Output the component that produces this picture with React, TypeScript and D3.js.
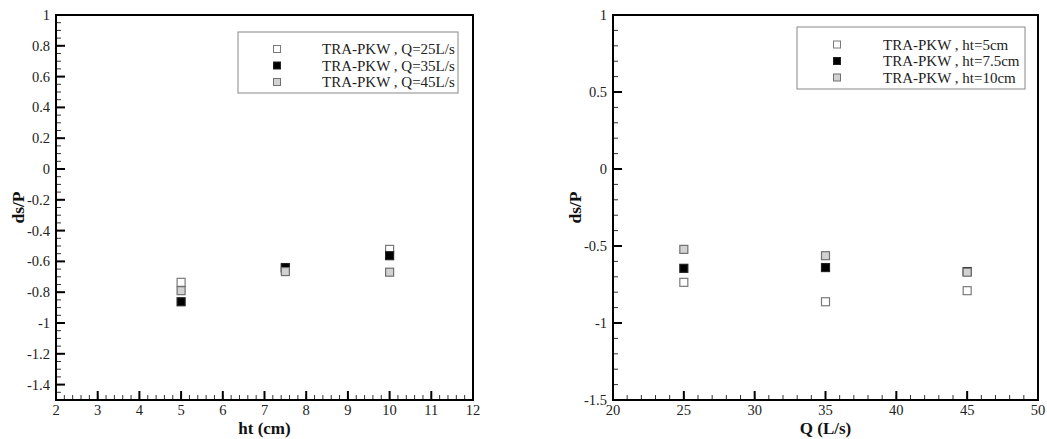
import React from "react";
import * as d3 from "d3";

// ---- data ----
const htValues = [5, 7.5, 10];
const qValues = [25, 35, 45];
// ds/P by ht, ordered by Q = 25, 35, 45
const dsP_ht5 = [-0.736, -0.862, -0.79];
const dsP_ht75 = [-0.645, -0.64, -0.666];
const dsP_ht10 = [-0.522, -0.563, -0.67];
// ds/P by Q, ordered by ht = 5, 7.5, 10
const dsP_Q25 = [-0.736, -0.645, -0.522];
const dsP_Q35 = [-0.862, -0.64, -0.563];
const dsP_Q45 = [-0.79, -0.666, -0.67];

const leftLabels = ["TRA-PKW , Q=25L/s", "TRA-PKW , Q=35L/s", "TRA-PKW , Q=45L/s"];
const rightLabels = ["TRA-PKW , ht=5cm", "TRA-PKW , ht=7.5cm", "TRA-PKW , ht=10cm"];

const leftYTicks = [1, 0.8, 0.6, 0.4, 0.2, 0, -0.2, -0.4, -0.6, -0.8, -1, -1.2, -1.4];
const leftXTicks = [2, 3, 4, 5, 6, 7, 8, 9, 10, 11, 12];
const rightYTicks = [1, 0.5, 0, -0.5, -1, -1.5];
const rightXTicks = [20, 25, 30, 35, 40, 45, 50];

const styles = [
  { fill: "#ffffff", stroke: "#7a7a7a" },
  { fill: "#000000", stroke: "#222222" },
  { fill: "#d2d2d2", stroke: "#707070" },
];

const FONT = "'Liberation Serif', 'Times New Roman', serif";

type PanelProps = {
  x0: number; x1: number; y0: number; y1: number;
  xDomain: [number, number]; yDomain: [number, number];
  xTicks: number[]; yTicks: number[];
  xMinorStep: number; yMinorStep: number;
  xs: number[]; series: number[][];
  labels: string[]; xTitle: string; yTitleX: number;
  legend: { x: number; y: number; w: number; h: number; mx: number; tx: number; rows: number[] };
};

function Panel(p: PanelProps) {
  const xs = d3.scaleLinear().domain(p.xDomain).range([p.x0, p.x1]);
  const ys = d3.scaleLinear().domain(p.yDomain).range([p.y1, p.y0]);
  const xMinor = d3.range(p.xDomain[0], p.xDomain[1] + 1e-9, p.xMinorStep);
  const yMinor = d3.range(p.yDomain[0], p.yDomain[1] + 1e-9, p.yMinorStep);
  const m = 8;
  const lm = 7;
  return (
    <g>
      {/* minor ticks */}
      {yMinor.map((v, i) => (
        <line key={"ym" + i} x1={p.x0} x2={p.x0 + 5} y1={ys(v)} y2={ys(v)} stroke="#333" strokeWidth={1} />
      ))}
      {xMinor.map((v, i) => (
        <line key={"xm" + i} x1={xs(v)} x2={xs(v)} y1={p.y1} y2={p.y1 - 5} stroke="#333" strokeWidth={1} />
      ))}
      {/* major ticks */}
      {p.yTicks.map((v, i) => (
        <line key={"yM" + i} x1={p.x0} x2={p.x0 + 9} y1={ys(v)} y2={ys(v)} stroke="#000" strokeWidth={2} />
      ))}
      {p.xTicks.map((v, i) => (
        <line key={"xM" + i} x1={xs(v)} x2={xs(v)} y1={p.y1} y2={p.y1 - 9} stroke="#000" strokeWidth={2} />
      ))}
      {/* frame */}
      <rect x={p.x0} y={p.y0} width={p.x1 - p.x0} height={p.y1 - p.y0} fill="none" stroke="#000" strokeWidth={2} />
      {/* tick labels */}
      {p.yTicks.map((v, i) => (
        <text key={"yl" + i} x={p.x0 - 6} y={ys(v)} dy="0.35em" textAnchor="end" fontFamily={FONT} fontSize={14.5} fill="#222">
          {String(v)}
        </text>
      ))}
      {p.xTicks.map((v, i) => (
        <text key={"xl" + i} x={xs(v)} y={p.y1 + 15} textAnchor="middle" fontFamily={FONT} fontSize={14.5} fill="#222">
          {String(v)}
        </text>
      ))}
      {/* axis titles */}
      <text x={(p.x0 + p.x1) / 2} y={434} textAnchor="middle" fontFamily={FONT} fontSize={17} fontWeight="bold" fill="#111">
        {p.xTitle}
      </text>
      <text
        transform={`translate(${p.yTitleX},${(p.y0 + p.y1) / 2}) rotate(-90)`}
        textAnchor="middle"
        fontFamily={FONT}
        fontSize={17.5}
        fontWeight="bold"
        fill="#111"
      >
        ds/P
      </text>
      {/* markers */}
      {p.series.map((vals, si) =>
        vals.map((v, j) => (
          <rect
            key={"m" + si + "-" + j}
            x={xs(p.xs[j]) - m / 2}
            y={ys(v) - m / 2}
            width={m}
            height={m}
            fill={styles[si].fill}
            stroke={styles[si].stroke}
            strokeWidth={1.2}
          />
        ))
      )}
      {/* legend */}
      <rect x={p.legend.x} y={p.legend.y} width={p.legend.w} height={p.legend.h} fill="#fff" stroke="#888" strokeWidth={1} />
      {p.labels.map((lab, i) => (
        <g key={"lg" + i}>
          <rect
            x={p.legend.mx - lm / 2}
            y={p.legend.rows[i] - lm / 2}
            width={lm}
            height={lm}
            fill={styles[i].fill}
            stroke={styles[i].stroke}
            strokeWidth={1}
          />
          <text x={p.legend.tx} y={p.legend.rows[i]} dy="0.35em" fontFamily={FONT} fontSize={15} fill="#222">
            {lab}
          </text>
        </g>
      ))}
    </g>
  );
}

export default function App() {
  return (
    <svg
      width={1047}
      height={439}
      style={{ position: "absolute", left: 0, top: 0, background: "#fff" }}
    >
      <rect x={0} y={0} width={1047} height={439} fill="#fff" />
      <Panel
        x0={56} x1={473} y0={15} y1={400}
        xDomain={[2, 12]} yDomain={[-1.5, 1]}
        xTicks={leftXTicks} yTicks={leftYTicks}
        xMinorStep={0.2} yMinorStep={0.05}
        xs={htValues}
        series={[dsP_Q25, dsP_Q35, dsP_Q45]}
        labels={leftLabels}
        xTitle="ht (cm)"
        yTitleX={24}
        legend={{ x: 238, y: 32, w: 220, h: 61, mx: 277, tx: 322, rows: [49, 65.5, 82] }}
      />
      <Panel
        x0={613} x1={1038} y0={15} y1={400}
        xDomain={[20, 50]} yDomain={[-1.5, 1]}
        xTicks={rightXTicks} yTicks={rightYTicks}
        xMinorStep={1} yMinorStep={0.1}
        xs={qValues}
        series={[dsP_ht5, dsP_ht75, dsP_ht10]}
        labels={rightLabels}
        xTitle="Q (L/s)"
        yTitleX={581}
        legend={{ x: 797, y: 27, w: 228, h: 62, mx: 837, tx: 883, rows: [44.5, 61, 77.5] }}
      />
    </svg>
  );
}
